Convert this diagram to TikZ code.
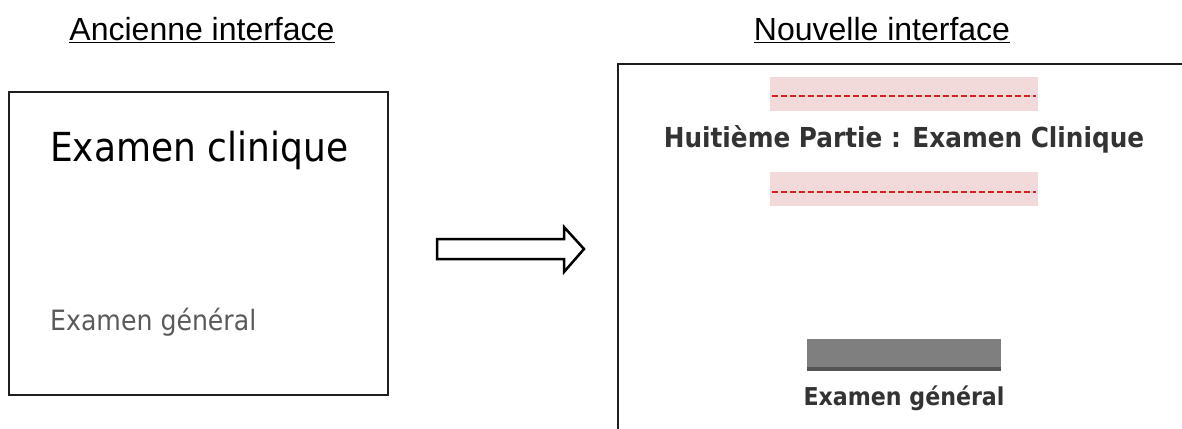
\documentclass[tikz,border=0pt]{standalone}
\usepackage{fontspec}
\setmainfont{Liberation Sans}
\newfontfamily\tah[FakeStretch=0.9]{DejaVu Sans}
\definecolor{boxline}{HTML}{1E1E1E}
\definecolor{pinkband}{HTML}{F3DADA}
\definecolor{dashred}{HTML}{D82020}
\definecolor{titlegray}{HTML}{333333}
\definecolor{bargray}{HTML}{7F7F7F}
\definecolor{bardark}{HTML}{555555}
\definecolor{oldgray}{HTML}{5A5A5A}
\tikzset{
  panel/.style={draw=boxline, line width=2.3pt},
  heading/.style={font=\fontsize{32}{36}\selectfont, text=black, inner sep=0pt},
  band/.style={fill=pinkband, draw=none},
  reddash/.style={draw=dashred, line width=2.2pt, dash pattern=on 6pt off 3pt},
  newtext/.style={font=\tah\bfseries, text=titlegray, inner sep=0pt},
  blockarrow/.style={draw=black, line width=2.5pt, fill=white, line join=miter},
}
\begin{document}
\begin{tikzpicture}[x=1pt,y=-1pt]
\useasboundingbox (0,0) rectangle (1182,428);
% headings
\node[heading] (hold) at (202,30) {\underline{Ancienne interface}};
\node[heading] (hnew) at (882,30) {\underline{Nouvelle interface}};
% old panel
\draw[panel] (9,92) rectangle (388,395);
\node[anchor=west, inner sep=0pt, text=black, font=\tah\fontsize{40}{46}\selectfont] (oclin) at (50,150) {Examen clinique};
\node[anchor=west, inner sep=0pt, text=oldgray, font=\tah\fontsize{28}{32}\selectfont] (ogen) at (50,322) {Examen général};
% arrow
\draw[blockarrow] (437,239) -- (564,239) -- (564,227) -- (584,249) -- (564,272) -- (564,259) -- (437,259) -- cycle;
\coordinate (arr) at (511,249);
% new panel
\draw[panel] (1190,64) -- (618,64) -- (618,440);
\fill[band] (770,77) rectangle (1038,111);
\draw[reddash] (772,96) -- (1036,96);
\node[newtext, font=\tah\bfseries\fontsize{27.5}{32}\selectfont] (title) at (904,139) {Huitième Partie : Examen Clinique};
\fill[band] (770,172) rectangle (1038,206);
\draw[reddash] (772,192) -- (1036,192);
\fill[bargray] (807,339) rectangle (1001,371);
\fill[bardark] (807,367) rectangle (1001,371);
\node[newtext, font=\tah\bfseries\fontsize{24.6}{28}\selectfont] (ngen) at (904,398) {Examen général};
\end{tikzpicture}
\end{document}
